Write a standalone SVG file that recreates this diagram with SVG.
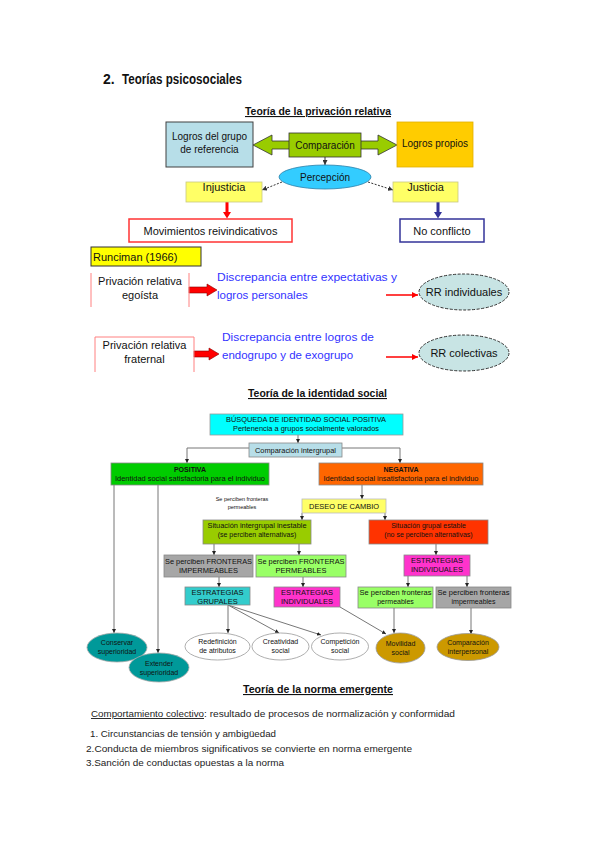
<svg xmlns="http://www.w3.org/2000/svg" width="599" height="848" viewBox="0 0 599 848">
<style>
text{font-family:"Liberation Sans",Arial,sans-serif;fill:#111}
.h{font-family:"Liberation Sans",Arial,sans-serif;font-weight:bold}
.u{text-decoration:underline}
.c{text-anchor:middle}
.t10{font-size:10px}
.t11{font-size:11px}
.s7{font-size:7px}
.s75{font-size:7.5px}
.blue{fill:#3333ff;font-size:11.5px}
.conn{stroke:#777;stroke-width:1;fill:none}
.body{font-size:9.5px;fill:#222}
</style>
<defs>
<marker id="ah" viewBox="0 0 6 6" refX="6" refY="3" markerWidth="4" markerHeight="4" markerUnits="userSpaceOnUse" orient="auto"><path d="M0,0 L6,3 L0,6 z" fill="#222"/></marker>
<marker id="ahd" viewBox="0 0 6 6" refX="6" refY="3" markerWidth="5" markerHeight="5" markerUnits="userSpaceOnUse" orient="auto"><path d="M0,0 L6,3 L0,6 z" fill="#333"/></marker>
<marker id="ahr" viewBox="0 0 6 6" refX="6" refY="3" markerWidth="6" markerHeight="6" markerUnits="userSpaceOnUse" orient="auto"><path d="M0,0 L6,3 L0,6 z" fill="#ff0000"/></marker>
</defs>
<rect width="599" height="848" fill="#fff"/>

<!-- Headings -->
<g id="headings">
<text class="h" x="103" y="84" font-size="14">2.</text>
<text class="h" x="122" y="84" font-size="14" textLength="120" lengthAdjust="spacingAndGlyphs">Teorías psicosociales</text>
<text class="h u" x="245" y="115" font-size="11" textLength="146" lengthAdjust="spacingAndGlyphs">Teoría de la privación relativa</text>
<text class="h u" x="248" y="397" font-size="11" textLength="139" lengthAdjust="spacingAndGlyphs">Teoría de la identidad social</text>
<text class="h u" x="243" y="693" font-size="11" textLength="150" lengthAdjust="spacingAndGlyphs">Teoría de la norma emergente</text>
</g>

<!-- ============ Privación relativa ============ -->
<g id="pr-connectors">
<polygon points="253,145 272,135 272,141 378,141 378,135 397,145 378,155 378,149 272,149 272,155" fill="#99cc00" stroke="#333" stroke-width="0.8"/>
<line x1="325" y1="157" x2="325" y2="165" stroke="#333" stroke-width="1" marker-end="url(#ahd)"/>
<line x1="282" y1="182" x2="262" y2="190" stroke="#333" stroke-width="1" stroke-dasharray="2,1.5" marker-end="url(#ahd)"/>
<line x1="368" y1="182" x2="393" y2="190" stroke="#333" stroke-width="1" stroke-dasharray="2,1.5" marker-end="url(#ahd)"/>
<polygon points="225.5,202 228.5,202 228.5,212 231,212 227,218.5 223,212 225.5,212" fill="#ff0000"/>
<polygon points="436.5,202 439.5,202 439.5,212 442,212 438,218.5 434,212 436.5,212" fill="#333399"/>
<polygon points="189,287 207,287 207,284 217,290 207,296 207,293 189,293" fill="#ff0000" stroke="#880000" stroke-width="0.6"/>
<polygon points="194,351 209,351 209,348 219,354 209,360 209,357 194,357" fill="#ff0000" stroke="#880000" stroke-width="0.6"/>
<line x1="386" y1="295" x2="418" y2="295" stroke="#ff0000" stroke-width="1.5" marker-end="url(#ahr)"/>
<line x1="386" y1="357" x2="418" y2="357" stroke="#ff0000" stroke-width="1.5" marker-end="url(#ahr)"/>
</g>

<g id="logros-grupo">
<rect x="166" y="122" width="87" height="45" fill="#b7dee8" stroke="#404040" stroke-width="1"/>
<text class="c t10" x="209.5" y="140" fill="#222">Logros del grupo</text>
<text class="c t10" x="209.5" y="153" fill="#222">de referencia</text>
</g>
<g id="comparacion">
<rect x="289" y="133" width="72" height="24" fill="#99cc00" stroke="#333" stroke-width="0.8"/>
<text class="c t10" x="325" y="148.5">Comparación</text>
</g>
<g id="logros-propios">
<rect x="397" y="122" width="76" height="45" fill="#ffcc00" stroke="#e0b000" stroke-width="0.8"/>
<text class="c t10" x="435" y="147">Logros propios</text>
</g>
<g id="percepcion">
<ellipse cx="325" cy="177" rx="46" ry="12" fill="#33ccff" stroke="#2a7fa8" stroke-width="0.8"/>
<text class="c t10" x="325" y="180.5">Percepción</text>
</g>
<g id="injusticia">
<rect x="186" y="182" width="76" height="20" fill="#ffff66" stroke="#c8c880" stroke-width="0.8"/>
<text class="c t11" x="224" y="191">Injusticia</text>
</g>
<g id="justicia">
<rect x="393" y="182" width="65" height="20" fill="#ffff66" stroke="#c8c880" stroke-width="0.8"/>
<text class="c t11" x="425.5" y="191">Justicia</text>
</g>
<g id="movimientos">
<rect x="129" y="219" width="163" height="23" fill="#fff" stroke="#ff3333" stroke-width="1.5"/>
<text class="c t11" x="210.5" y="234.5">Movimientos reivindicativos</text>
</g>
<g id="no-conflicto">
<rect x="400" y="219" width="84" height="23" fill="#fff" stroke="#333399" stroke-width="1.5"/>
<text class="c t11" x="442" y="234.5">No conflicto</text>
</g>
<g id="runciman">
<rect x="91" y="247" width="110" height="19" fill="#ffff00" stroke="#333" stroke-width="1"/>
<text class="t11" x="93" y="260.5">Runciman (1966)</text>
</g>
<g id="egoista">
<line x1="91" y1="273" x2="91" y2="307" stroke="#ff8080" stroke-width="1"/>
<line x1="189" y1="273" x2="189" y2="307" stroke="#ff8080" stroke-width="1"/>
<text class="c t11" x="140" y="285">Privación relativa</text>
<text class="c t11" x="140" y="299">egoísta</text>
</g>
<g id="disc-egoista">
<text class="blue" x="217" y="281" textLength="180" lengthAdjust="spacingAndGlyphs">Discrepancia entre expectativas y</text>
<text class="blue" x="217" y="299">logros personales</text>
</g>
<g id="rr-individuales">
<ellipse cx="464" cy="292" rx="45" ry="18" fill="#c8e4e4" stroke="#333" stroke-width="1" stroke-dasharray="3,1.5"/>
<text class="c t11" x="464" y="296">RR individuales</text>
</g>
<g id="fraternal">
<polyline points="95,372 95,337 194,337 194,372" fill="none" stroke="#ff8080" stroke-width="1"/>
<text class="c t11" x="144.5" y="349">Privación relativa</text>
<text class="c t11" x="144.5" y="363">fraternal</text>
</g>
<g id="disc-fraternal">
<text class="blue" x="222" y="341" textLength="152" lengthAdjust="spacingAndGlyphs">Discrepancia entre logros de</text>
<text class="blue" x="222" y="359">endogrupo y de exogrupo</text>
</g>
<g id="rr-colectivas">
<ellipse cx="464" cy="353" rx="45" ry="18" fill="#c8e4e4" stroke="#333" stroke-width="1" stroke-dasharray="3,1.5"/>
<text class="c t11" x="464" y="357">RR colectivas</text>
</g>

<!-- ============ Identidad social ============ -->
<g id="is-connectors">
<line class="conn" x1="298" y1="435" x2="298" y2="443" marker-end="url(#ah)"/>
<polyline class="conn" points="249,448 187,448 187,463" marker-end="url(#ah)"/>
<polyline class="conn" points="342,448 400,448 400,463" marker-end="url(#ah)"/>
<line class="conn" x1="114" y1="485" x2="114" y2="633" marker-end="url(#ah)"/>
<line class="conn" x1="158" y1="485" x2="158" y2="653" marker-end="url(#ah)"/>
<line class="conn" x1="362" y1="485" x2="362" y2="499" marker-end="url(#ah)"/>
<line class="conn" x1="302" y1="513" x2="302" y2="520" marker-end="url(#ah)"/>
<line class="conn" x1="385" y1="513" x2="385" y2="520" marker-end="url(#ah)"/>
<line class="conn" x1="214" y1="544" x2="214" y2="555" marker-end="url(#ah)"/>
<line class="conn" x1="299" y1="544" x2="299" y2="555" marker-end="url(#ah)"/>
<line class="conn" x1="436" y1="544" x2="436" y2="555" marker-end="url(#ah)"/>
<line class="conn" x1="219" y1="577" x2="219" y2="587" marker-end="url(#ah)"/>
<line class="conn" x1="303" y1="577" x2="303" y2="587" marker-end="url(#ah)"/>
<line class="conn" x1="408" y1="576" x2="408" y2="587" marker-end="url(#ah)"/>
<line class="conn" x1="467" y1="576" x2="467" y2="587" marker-end="url(#ah)"/>
<line class="conn" x1="228" y1="605" x2="228" y2="633" marker-end="url(#ah)"/>
<line class="conn" x1="228" y1="605" x2="279" y2="633" stroke-width="1.3" marker-end="url(#ah)"/>
<line class="conn" x1="228" y1="605" x2="321" y2="635" stroke-width="1.3" marker-end="url(#ah)"/>
<line class="conn" x1="340" y1="607" x2="386" y2="634" stroke-width="1.3" marker-end="url(#ah)"/>
<line class="conn" x1="394" y1="608" x2="394" y2="633" stroke-width="1.3" marker-end="url(#ah)"/>
<line class="conn" x1="471" y1="608" x2="471" y2="634" stroke-width="1.3" marker-end="url(#ah)"/>
</g>

<g id="busqueda">
<rect x="210" y="414" width="193" height="21" fill="#00ffff" stroke="#999" stroke-width="0.8"/>
<text class="c s7" x="306" y="421.5" fill="#333399" textLength="160" lengthAdjust="spacingAndGlyphs">BÚSQUEDA DE IDENTIDAD SOCIAL POSITIVA</text>
<text class="c s7" x="306" y="430.5" fill="#333399" textLength="146" lengthAdjust="spacingAndGlyphs">Pertenencia a grupos socialmente valorados</text>
</g>
<g id="comp-intergrupal">
<rect x="249" y="443" width="93" height="14" fill="#b7dee8" stroke="#888" stroke-width="0.8"/>
<text class="c s75" x="295.5" y="452.5" fill="#3366cc" textLength="81" lengthAdjust="spacingAndGlyphs">Comparación intergrupal</text>
</g>
<g id="positiva">
<rect x="111" y="463" width="158" height="22" fill="#00cc00" stroke="#888" stroke-width="0.8"/>
<text class="c s7" x="190" y="471.5" font-weight="bold" fill="#222">POSITIVA</text>
<text class="c s7" x="190" y="481" fill="#222" textLength="150" lengthAdjust="spacingAndGlyphs">Identidad social satisfactoria para el individuo</text>
</g>
<g id="negativa">
<rect x="319" y="463" width="164" height="22" fill="#ff6600" stroke="#888" stroke-width="0.8"/>
<text class="c s7" x="401" y="471.5" font-weight="bold" fill="#222">NEGATIVA</text>
<text class="c s7" x="401" y="481" fill="#333" textLength="155" lengthAdjust="spacingAndGlyphs">Identidad social insatisfactoria para el individuo</text>
</g>
<g id="nota-fronteras">
<text class="c" x="242" y="501" font-size="5.5" fill="#444">Se perciben fronteras</text>
<text class="c" x="242" y="509" font-size="5.5" fill="#444">permeables</text>
</g>
<g id="deseo">
<rect x="302" y="499" width="84" height="14" fill="#ffff66" stroke="#bbb" stroke-width="0.8"/>
<text class="c s7" x="344" y="508.5" fill="#666" textLength="70" lengthAdjust="spacingAndGlyphs">DESEO DE CAMBIO</text>
</g>
<g id="inestable">
<rect x="203" y="520" width="108" height="24" fill="#99cc00" stroke="#888" stroke-width="0.8"/>
<text class="c s7" x="257" y="528" fill="#333" textLength="99" lengthAdjust="spacingAndGlyphs">Situación intergrupal inestable</text>
<text class="c s7" x="257" y="537" fill="#333">(se perciben alternativas)</text>
</g>
<g id="estable">
<rect x="369" y="520" width="119" height="24" fill="#ff3300" stroke="#888" stroke-width="0.8"/>
<text class="c s7" x="428.5" y="528" fill="#992200">Situación grupal estable</text>
<text class="c s7" x="428.5" y="537" fill="#992200">(no se perciben alternativas)</text>
</g>
<g id="impermeables-izq">
<rect x="164" y="555" width="89" height="22" fill="#a6a6a6" stroke="#888" stroke-width="0.8"/>
<text class="c s75" x="208.5" y="563.5" fill="#222" textLength="87" lengthAdjust="spacingAndGlyphs">Se perciben FRONTERAS</text>
<text class="c s75" x="208.5" y="572.5" fill="#222">IMPERMEABLES</text>
</g>
<g id="permeables-izq">
<rect x="256" y="555" width="90" height="22" fill="#99ff66" stroke="#888" stroke-width="0.8"/>
<text class="c s75" x="301" y="563.5" fill="#222" textLength="87" lengthAdjust="spacingAndGlyphs">Se perciben FRONTERAS</text>
<text class="c s75" x="301" y="572.5" fill="#222">PERMEABLES</text>
</g>
<g id="estrategias-ind-der">
<rect x="404" y="555" width="66" height="21" fill="#ff33cc" stroke="#888" stroke-width="0.8"/>
<text class="c s75" x="437" y="563" fill="#8833cc">ESTRATEGIAS</text>
<text class="c s75" x="437" y="572" fill="#8833cc">INDIVIDUALES</text>
</g>
<g id="estrategias-grupales">
<rect x="185" y="587" width="65" height="18" fill="#33cccc" stroke="#888" stroke-width="0.8"/>
<text class="c s75" x="217.5" y="595" fill="#3366ff">ESTRATEGIAS</text>
<text class="c s75" x="217.5" y="604" fill="#3366ff">GRUPALES</text>
</g>
<g id="estrategias-ind-izq">
<rect x="274" y="587" width="66" height="20" fill="#ff33cc" stroke="#888" stroke-width="0.8"/>
<text class="c s75" x="307" y="595" fill="#8833cc">ESTRATEGIAS</text>
<text class="c s75" x="307" y="604" fill="#8833cc">INDIVIDUALES</text>
</g>
<g id="permeables-der">
<rect x="358" y="587" width="75" height="21" fill="#99ff66" stroke="#888" stroke-width="0.8"/>
<text class="c s7" x="395.5" y="595" fill="#222" textLength="72" lengthAdjust="spacingAndGlyphs">Se perciben fronteras</text>
<text class="c s7" x="395.5" y="604" fill="#222">permeables</text>
</g>
<g id="impermeables-der">
<rect x="436" y="587" width="75" height="21" fill="#a6a6a6" stroke="#888" stroke-width="0.8"/>
<text class="c s7" x="473.5" y="595" fill="#222" textLength="72" lengthAdjust="spacingAndGlyphs">Se perciben fronteras</text>
<text class="c s7" x="473.5" y="604" fill="#222">impermeables</text>
</g>
<g id="conservar">
<ellipse cx="117" cy="647.5" rx="30" ry="14.5" fill="#009999" stroke="#aaa" stroke-width="0.8"/>
<text class="c s7" x="117" y="645" fill="#fff">Conservar</text>
<text class="c s7" x="117" y="654" fill="#fff">superioridad</text>
</g>
<g id="extender">
<ellipse cx="159" cy="667.5" rx="30" ry="14.5" fill="#009999" stroke="#aaa" stroke-width="0.8"/>
<text class="c s7" x="159" y="665.5" fill="#fff">Extender</text>
<text class="c s7" x="159" y="674.5" fill="#fff">superioridad</text>
</g>
<g id="redefinicion">
<ellipse cx="217.5" cy="646.5" rx="32.5" ry="13.5" fill="#fff" stroke="#999" stroke-width="0.8"/>
<text class="c s7" x="217.5" y="644" fill="#555">Redefinición</text>
<text class="c s7" x="217.5" y="653" fill="#555">de atributos</text>
</g>
<g id="creatividad">
<ellipse cx="280.5" cy="646.5" rx="28.5" ry="13.5" fill="#fff" stroke="#999" stroke-width="0.8"/>
<text class="c s7" x="280.5" y="644" fill="#555">Creatividad</text>
<text class="c s7" x="280.5" y="653" fill="#555">social</text>
</g>
<g id="competicion">
<ellipse cx="340" cy="646.5" rx="28.5" ry="13.5" fill="#fff" stroke="#999" stroke-width="0.8"/>
<text class="c s7" x="340" y="644" fill="#555">Competición</text>
<text class="c s7" x="340" y="653" fill="#555">social</text>
</g>
<g id="movilidad">
<ellipse cx="400.5" cy="648" rx="24.5" ry="15" fill="#cc9900" stroke="#999" stroke-width="0.8"/>
<text class="c s7" x="400.5" y="645.5" fill="#ffffcc">Movilidad</text>
<text class="c s7" x="400.5" y="654.5" fill="#ffffcc">social</text>
</g>
<g id="comp-interpersonal">
<ellipse cx="468" cy="647" rx="31" ry="13.5" fill="#cc9900" stroke="#999" stroke-width="0.8"/>
<text class="c s7" x="468" y="644.5" fill="#ffffcc">Comparación</text>
<text class="c s7" x="468" y="653.5" fill="#ffffcc">interpersonal</text>
</g>

<!-- ============ Norma emergente ============ -->
<g id="norma-texto">
<text class="body u" x="91" y="717" textLength="113" lengthAdjust="spacingAndGlyphs">Comportamiento colectivo</text>
<text class="body" x="204" y="717" textLength="251" lengthAdjust="spacingAndGlyphs">: resultado de procesos de normalización y conformidad</text>
<text class="body" x="90" y="737" textLength="186" lengthAdjust="spacingAndGlyphs">1. Circunstancias de tensión y ambigüedad</text>
<text class="body" x="86" y="752" textLength="326" lengthAdjust="spacingAndGlyphs">2.Conducta de miembros significativos se convierte en norma emergente</text>
<text class="body" x="86" y="766" textLength="198" lengthAdjust="spacingAndGlyphs">3.Sanción de conductas opuestas a la norma</text>
</g>
</svg>
